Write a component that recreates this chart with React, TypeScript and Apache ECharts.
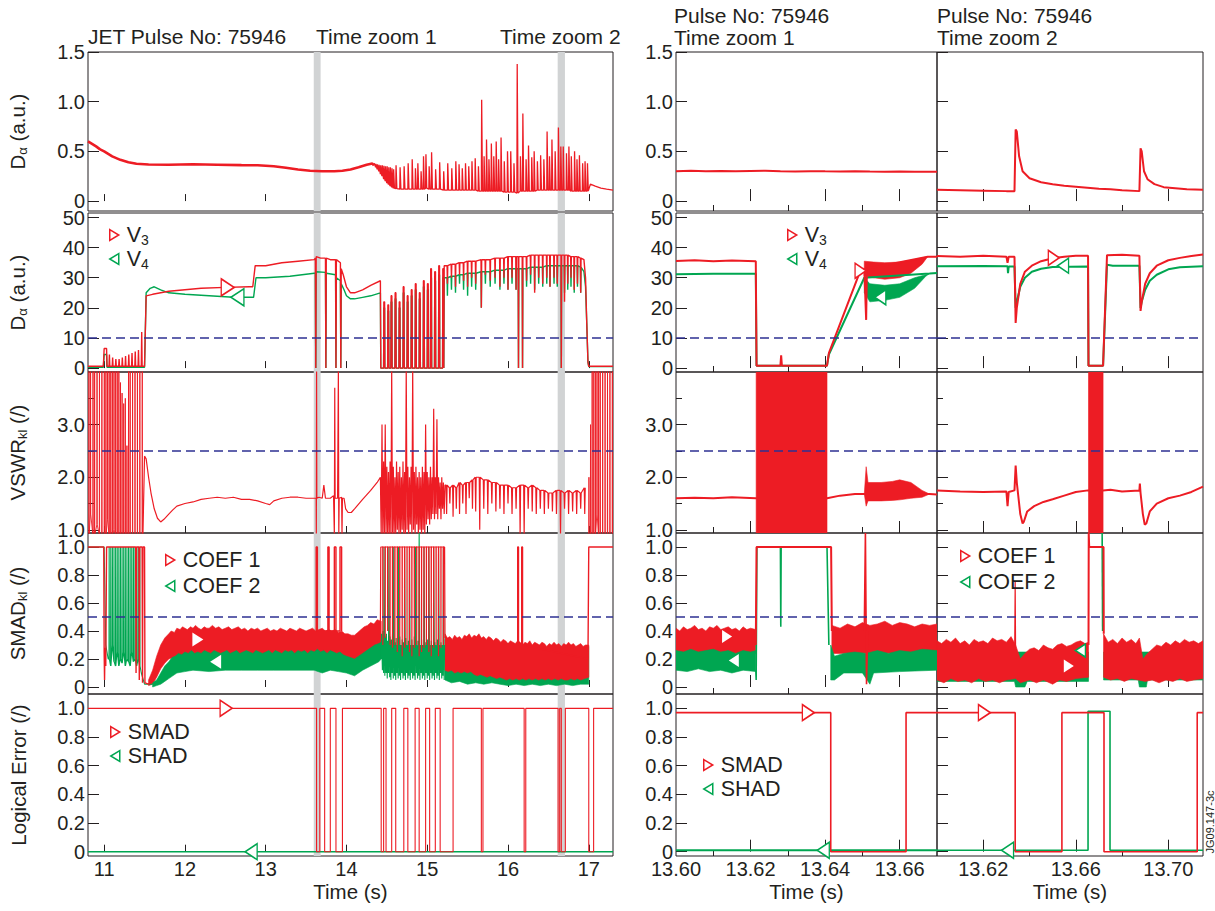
import React, { useEffect, useRef } from 'react';
import * as echarts from 'echarts';

type P = [number, number];
const RED = '#ed1c24', GREEN = '#00a651', BLUE = '#2e3192', GREY = '#d1d3d4', INK = '#231f20';
const FONT = 'Liberation Sans, Arial, Helvetica, sans-serif';

// ---------------- axes / tick labels ----------------
const xTicksL = [11, 12, 13, 14, 15, 16, 17];
const xTicksM = [13.62, 13.64, 13.66];
const xLabelsM = [13.6, 13.62, 13.64, 13.66];
const xMinorM = [13.61, 13.63, 13.65];
const xTicksR = [13.62, 13.66, 13.7];
const xMinorR = [13.64, 13.68];
const yLabelsDa = [0, 0.5, 1, 1.5];
const yLabelsV = [0, 10, 20, 30, 40, 50];
const yLabelsVswr = [1, 2, 3];
const yMinorVswr = [1.5, 2.5, 3.5];
const yLabelsFrac = [0, 0.2, 0.4, 0.6, 0.8, 1];
const zoomBands = [[13.595, 13.68], [16.615, 16.705]];

// ---------------- row 1 : D alpha ----------------
const daL_base: P[] = [[10.8,0.6],[10.85,0.575],[10.9,0.55],[10.95,0.52],[11.0,0.5],[11.1,0.45],[11.2,0.415],[11.3,0.39],[11.4,0.375],[11.55,0.368],[11.8,0.366],[12.1,0.37],[12.4,0.366],[12.7,0.362],[12.9,0.36],[13.1,0.35],[13.25,0.335],[13.4,0.318],[13.55,0.305],[13.7,0.3],[13.85,0.3],[13.95,0.305],[14.05,0.318],[14.15,0.34],[14.25,0.365],[14.32,0.378],[14.34,0.36]];
// [time, base, peak]
const daL_elms = [[14.34,0.36,0.38],[14.36,0.34,0.375],[14.38,0.32,0.37],[14.4,0.3,0.365],[14.42,0.27,0.36],[14.44,0.25,0.36],[14.46,0.22,0.355],[14.48,0.2,0.35],[14.5,0.18,0.35],[14.52,0.165,0.34],[14.54,0.15,0.34],[14.56,0.14,0.33],[14.58,0.13,0.32],[14.61,0.125,0.36],[14.66,0.12,0.34],[14.71,0.12,0.35],[14.76,0.12,0.38],[14.81,0.12,0.42],[14.85,0.12,0.33],[14.88,0.12,0.38],[14.92,0.12,0.3],[14.95,0.12,0.45],[14.98,0.13,0.47],[15.02,0.12,0.35],[15.05,0.12,0.49],[15.1,0.12,0.32],[15.15,0.12,0.39],[15.2,0.11,0.3],[15.25,0.11,0.38],[15.3,0.11,0.33],[15.35,0.11,0.4],[15.39,0.11,0.37],[15.43,0.11,0.33],[15.47,0.11,0.38],[15.51,0.11,0.35],[15.55,0.11,0.4],[15.59,0.11,0.43],[15.63,0.1,0.35],[15.67,0.1,1.02],[15.7,0.1,0.45],[15.73,0.1,0.62],[15.76,0.1,0.42],[15.79,0.1,0.58],[15.82,0.1,0.45],[15.85,0.1,0.6],[15.88,0.1,0.42],[15.91,0.1,0.64],[15.95,0.09,0.4],[15.99,0.09,0.5],[16.03,0.09,0.5],[16.07,0.09,0.38],[16.11,0.08,1.38],[16.15,0.1,0.45],[16.18,0.1,0.88],[16.22,0.1,0.42],[16.25,0.1,0.56],[16.29,0.1,0.44],[16.32,0.1,0.5],[16.36,0.11,0.4],[16.4,0.11,0.46],[16.44,0.11,0.42],[16.48,0.11,0.7],[16.51,0.11,0.45],[16.54,0.11,0.62],[16.58,0.11,0.5],[16.62,0.11,0.74],[16.65,0.11,0.55],[16.68,0.11,0.55],[16.72,0.11,0.48],[16.75,0.11,0.55],[16.78,0.1,0.45],[16.82,0.1,0.5],[16.85,0.1,0.42],[16.88,0.1,0.46],[16.92,0.1,0.38],[16.95,0.1,0.4],[16.98,0.1,0.38]];
const daL_tail: P[] = [[17.0,0.1],[17.02,0.17],[17.08,0.15],[17.15,0.13],[17.22,0.12],[17.3,0.11]];
const daM: P[] = [[13.6,0.3],[13.604,0.305],[13.608,0.3],[13.612,0.303],[13.616,0.299],[13.62,0.302],[13.624,0.305],[13.628,0.3],[13.632,0.298],[13.636,0.301],[13.64,0.299],[13.644,0.298],[13.648,0.3],[13.652,0.297],[13.656,0.296],[13.66,0.298],[13.664,0.294],[13.667,0.296],[13.67,0.295]];
const daR: P[] = [[13.6,0.115],[13.61,0.11],[13.62,0.105],[13.63,0.1],[13.6335,0.1],[13.634,0.72],[13.6345,0.7],[13.6355,0.45],[13.637,0.3],[13.64,0.23],[13.645,0.19],[13.65,0.17],[13.655,0.155],[13.66,0.145],[13.665,0.135],[13.67,0.125],[13.675,0.12],[13.68,0.11],[13.6875,0.1],[13.688,0.53],[13.6885,0.5],[13.6895,0.3],[13.691,0.22],[13.694,0.17],[13.698,0.14],[13.703,0.13],[13.708,0.12],[13.715,0.115]];

// ---------------- row 2 : V3 / V4 ----------------
const v3L_early: P[] = [[10.8,0.6],[10.99,0.6],[11.0,6.5],[11.03,6.5],[11.035,0.6],[11.06,0.6],[11.065,4.5],[11.07,0.6],[11.1,0.6],[11.105,3.5],[11.11,0.6],[11.14,0.6],[11.145,3],[11.15,0.6],[11.18,0.6],[11.185,3],[11.19,0.6],[11.22,0.6],[11.225,3.5],[11.23,0.6],[11.26,0.6],[11.265,4],[11.27,0.6],[11.3,0.6],[11.305,4.5],[11.31,0.6],[11.34,0.6],[11.345,5],[11.35,0.6],[11.38,0.6],[11.385,5.5],[11.39,0.6],[11.42,0.6],[11.425,6],[11.43,0.6],[11.46,0.6],[11.465,12],[11.47,0.6],[11.5,0.6],[11.52,24],[11.6,24.5],[11.8,25.5],[12.0,26],[12.2,26.5],[12.5,26.8],[12.8,27],[12.84,27],[12.87,34],[13.0,34],[13.2,35],[13.4,35.5],[13.6,36],[13.615,36.5],[13.62,0],[13.625,37],[13.68,36.5],[13.74,36.5],[13.745,0],[13.75,36.5],[13.8,36],[13.865,36],[13.87,0],[13.875,36],[13.925,35],[13.93,0],[13.935,33],[13.96,31],[14.0,27],[14.05,25],[14.1,25],[14.2,26],[14.3,27.5],[14.42,29],[14.425,0]];
const v3L_saw = [[14.46,22],[14.51,21],[14.55,24],[14.6,25],[14.65,22],[14.7,27],[14.75,24],[14.8,26],[14.85,28],[14.9,25],[14.95,29],[15.0,28],[15.04,33],[15.09,32],[15.14,34],[15.19,33]];
const v3L_late = [[15.25,34,28],[15.3,34.5,30],[15.35,34.5,27],[15.4,35,31],[15.45,35,29],[15.5,35.5,27],[15.55,35.5,30],[15.6,35.5,28],[15.67,36,20],[15.72,36,31],[15.78,36,29],[15.84,36.5,30],[15.9,36.5,27],[15.95,36.5,30],[16.0,37,26],[16.05,37,30],[16.1,37,26],[16.13,37,0],[16.18,37,0],[16.23,37,29],[16.28,37.5,31],[16.33,37.5,25],[16.38,37.5,30],[16.43,37.5,28],[16.48,37.5,30],[16.52,37.5,27],[16.57,37.5,30],[16.61,37.5,28],[16.66,37.5,0],[16.7,37.5,22],[16.74,37.5,28],[16.78,37,30],[16.82,37,26],[16.86,37,28],[16.9,36.5,25]];
const v3L_end: P[] = [[16.94,36],[16.96,30],[16.975,15],[16.99,2],[17.0,0.6],[17.3,0.6]];
const v4L_early: P[] = [[10.8,0.3],[10.99,0.3],[11.0,4.5],[11.03,4.5],[11.035,0.3],[11.5,0.3],[11.52,25],[11.57,26.5],[11.62,27],[11.7,26],[11.8,25],[12.0,24.5],[12.3,24],[12.6,23.5],[12.85,23.5],[12.88,30],[13.0,30],[13.3,30.5],[13.6,31.5],[13.615,31.5],[13.62,0],[13.625,32],[13.74,31.8],[13.745,0],[13.75,31.5],[13.865,31],[13.87,0],[13.875,30],[13.925,29],[13.93,0],[13.935,28],[13.97,26],[14.0,24],[14.05,23],[14.1,23],[14.2,23.5],[14.3,24],[14.42,25],[14.425,0]];
const v4L_saw = [[14.46,20],[14.51,19],[14.55,22],[14.6,23],[14.65,20],[14.7,25],[14.75,22],[14.8,24],[14.85,26],[14.9,23],[14.95,27],[15.0,26],[15.04,30],[15.09,29],[15.14,31],[15.19,30]];
const v4L_late = [[15.25,30,24],[15.3,30.5,26],[15.35,30.5,25],[15.4,31,28],[15.45,31,26],[15.5,31.5,24],[15.55,31.5,27],[15.6,31.5,26],[15.67,32,20],[15.72,32,28],[15.78,32,27],[15.84,32.5,28],[15.9,32.5,26],[15.95,32.5,28],[16.0,33,26],[16.05,33,28],[16.1,33,26],[16.13,33,0],[16.18,33,0],[16.23,33,27],[16.28,33.5,28],[16.33,33.5,26],[16.38,33.5,28],[16.43,33.5,27],[16.48,34,28],[16.52,34,27],[16.57,34,28],[16.61,34,27],[16.66,34,0],[16.7,34,25],[16.74,34,26],[16.78,34,27],[16.82,34,25],[16.86,34,27],[16.9,33.5,25]];
const v4L_end: P[] = [[16.94,32],[16.96,27],[16.975,15],[16.99,2],[17.0,0.5],[17.3,0.5]];

const v3M: P[] = [[13.6,35.6],[13.605,35.8],[13.61,35.5],[13.615,35.7],[13.6214,35.5],[13.6216,0.8],[13.628,0.8],[13.6282,4.2],[13.6284,0.8],[13.6405,0.8],[13.641,5],[13.6495,32.5],[13.6505,33],[13.651,16],[13.6512,33]];
const v3M_up: P[] = [[13.6505,35.5],[13.653,35.2],[13.656,35],[13.66,35.2],[13.663,35.8],[13.666,36.6],[13.6675,37]];
const v3M_lo: P[] = [[13.6505,30.5],[13.653,30],[13.656,29.5],[13.66,30],[13.663,31.5],[13.666,34.5],[13.6675,37]];
const v3M_end: P[] = [[13.6675,37],[13.67,37]];
const v4M: P[] = [[13.6,31.2],[13.61,31.3],[13.6214,31.3],[13.6216,0.8],[13.6405,0.8],[13.641,4.5],[13.6505,30]];
const v4M_up: P[] = [[13.6505,30],[13.652,28],[13.656,27.5],[13.66,28],[13.664,30],[13.667,31],[13.668,31.4]];
const v4M_lo: P[] = [[13.6505,25],[13.652,22],[13.656,22.5],[13.66,23.5],[13.664,26.5],[13.667,30.5],[13.668,31.4]];
const v4M_end: P[] = [[13.668,31.4],[13.67,31.6]];
const v3R: P[] = [[13.6,37.2],[13.61,37.0],[13.62,37.3],[13.63,37],[13.6305,35],[13.631,37],[13.6335,37],[13.634,15],[13.6345,20],[13.636,28],[13.638,32],[13.641,34],[13.645,35.5],[13.65,36.5],[13.655,37],[13.66,37.3],[13.6653,37.3],[13.6655,0.8],[13.6718,0.8],[13.6735,37.5],[13.68,37.6],[13.6875,37.3],[13.688,19],[13.6885,22],[13.69,28],[13.692,31.5],[13.695,34],[13.7,35.8],[13.705,36.6],[13.71,37.2],[13.715,37.7]];
const v4R: P[] = [[13.6,33.8],[13.62,33.9],[13.6305,33.8],[13.6307,31.5],[13.631,33.7],[13.6335,33.7],[13.634,20],[13.6345,22],[13.636,27],[13.638,30],[13.641,32],[13.645,33],[13.65,33.6],[13.6653,33.7],[13.6655,0.8],[13.6718,0.8],[13.6735,34.3],[13.676,34],[13.6875,34],[13.688,20],[13.6885,22],[13.69,26],[13.692,29],[13.695,31],[13.7,32.8],[13.705,33.5],[13.715,33.8]];

// ---------------- row 3 : VSWR ----------------
const vsL_oscA = [[10.81,0.9,4.1],[10.83,1.3,4.1],[10.86,0.9,4.1],[10.88,0.9,4.1],[10.91,1.1,4.1],[10.94,0.9,4.1],[10.97,0.9,4.1],[11.0,0.9,4.1],[11.02,0.9,4.1],[11.04,1.2,4.1],[11.06,0.9,4.1],[11.08,0.9,4.1],[11.1,0.9,4.1],[11.12,1.0,4.1],[11.14,0.9,4.1],[11.16,0.9,4.1],[11.18,0.9,4.1],[11.2,0.9,3.8],[11.22,0.9,3.6],[11.24,0.9,3.4],[11.26,0.9,3.5],[11.28,0.9,2.6],[11.3,0.9,4.1],[11.32,0.9,4.1],[11.35,0.9,4.1],[11.38,0.9,4.1],[11.41,0.9,4.1],[11.44,0.9,4.1],[11.47,0.9,4.1]];
const vsL_mid: P[] = [[11.48,0.9],[11.5,2.4],[11.52,2.35],[11.55,2.0],[11.58,1.7],[11.62,1.4],[11.66,1.22],[11.7,1.15],[11.74,1.2],[11.8,1.3],[11.85,1.38],[11.9,1.45],[12.0,1.5],[12.1,1.53],[12.2,1.58],[12.3,1.6],[12.4,1.62],[12.5,1.6],[12.6,1.62],[12.7,1.58],[12.8,1.58],[12.9,1.55],[13.0,1.5],[13.05,1.48],[13.1,1.55],[13.2,1.6],[13.3,1.62],[13.4,1.62],[13.5,1.6],[13.6,1.6],[13.625,1.6],[13.627,0.9],[13.63,4.1],[13.633,1.6],[13.66,1.62],[13.7,1.6],[13.72,1.85],[13.74,1.6],[13.8,1.6],[13.84,1.65],[13.85,0.9],[13.855,3.7],[13.86,1.6],[13.89,1.6],[13.9,4.1],[13.905,0.9],[13.91,1.6],[13.94,1.62],[13.945,0.9],[13.95,1.6],[13.97,1.6],[13.99,1.4],[14.02,1.33],[14.06,1.33],[14.1,1.4],[14.2,1.58],[14.3,1.75],[14.38,1.9],[14.42,2.0]];
const vsL_oscB = [[14.43,0.9,3.0],[14.45,0.9,2.3],[14.47,0.9,3.0],[14.49,0.9,2.2],[14.51,0.9,2.1],[14.53,0.9,2.3],[14.55,0.9,4.1],[14.57,0.9,2.2],[14.59,0.9,2.0],[14.61,0.9,2.3],[14.63,1.0,2.1],[14.65,0.9,2.2],[14.67,0.9,2.0],[14.69,1.0,2.3],[14.71,0.9,2.1],[14.73,0.9,4.1],[14.75,1.0,2.2],[14.77,0.9,2.0],[14.79,1.1,2.2],[14.81,0.9,4.1],[14.83,1.0,2.1],[14.85,0.9,2.2],[14.87,1.1,2.0],[14.89,0.9,2.1],[14.91,1.0,2.0],[14.93,0.9,2.2],[14.95,1.0,2.1],[14.97,0.9,3.0],[14.99,1.1,2.1],[15.01,1.2,2.0],[15.03,1.1,2.2],[15.05,1.2,2.0],[15.07,1.3,3.3],[15.09,1.2,2.0],[15.11,1.3,3.1],[15.13,1.2,2.0],[15.15,1.4,1.9],[15.17,1.2,2.0],[15.19,1.4,1.9],[15.21,1.3,1.85]];
const vsL_late = [[15.24,1.85,1.3],[15.28,1.8,1.5],[15.32,1.85,1.25],[15.36,1.8,1.4],[15.4,1.9,1.3],[15.44,1.85,1.5],[15.48,1.9,1.3],[15.52,1.9,1.6],[15.56,1.95,1.4],[15.6,2.0,1.35],[15.65,2.0,1.0],[15.7,1.95,1.4],[15.75,1.95,1.3],[15.8,1.9,1.5],[15.85,1.9,1.35],[15.9,1.85,1.4],[15.95,1.85,1.3],[16.0,1.85,1.5],[16.05,1.8,1.3],[16.1,1.8,1.4],[16.15,1.85,0.9],[16.2,1.85,0.9],[16.25,1.8,1.4],[16.3,1.85,1.35],[16.35,1.8,1.3],[16.4,1.75,1.4],[16.45,1.75,1.3],[16.5,1.7,1.4],[16.55,1.7,1.35],[16.6,1.75,1.3],[16.65,1.75,0.9],[16.7,1.7,1.4],[16.75,1.75,1.3],[16.8,1.7,1.35],[16.85,1.75,1.3],[16.9,1.7,1.4],[16.95,1.8,1.3]];
const vsL_oscC = [[17.0,0.9,2.0],[17.02,0.9,3.0],[17.04,0.9,4.1],[17.06,0.9,4.1],[17.08,0.9,4.1],[17.1,1.3,4.1],[17.12,0.9,4.1],[17.14,0.9,4.1],[17.17,0.9,4.1],[17.2,0.9,4.1],[17.23,0.9,4.1],[17.26,0.9,4.1],[17.29,0.9,4.1]];
const vsM_a: P[] = [[13.6,1.6],[13.605,1.61],[13.61,1.6],[13.615,1.62],[13.6214,1.6]];
const vsM_block = [13.6215, 13.6405];
const vsM_b: P[] = [[13.6405,1.6],[13.644,1.65],[13.648,1.68],[13.6508,1.68]];
const vsM_up: P[] = [[13.6505,1.68],[13.651,2.2],[13.6515,1.9],[13.655,1.9],[13.658,1.92],[13.66,1.95],[13.663,1.9],[13.666,1.75],[13.668,1.68]];
const vsM_lo: P[] = [[13.6505,1.68],[13.651,1.45],[13.6515,1.55],[13.655,1.55],[13.658,1.56],[13.66,1.57],[13.663,1.6],[13.666,1.62],[13.668,1.68]];
const vsM_end: P[] = [[13.668,1.68],[13.67,1.67]];
const vsR_a: P[] = [[13.6,1.75],[13.61,1.73],[13.62,1.72],[13.63,1.73],[13.6305,1.45],[13.631,1.72],[13.6335,1.75],[13.634,2.22],[13.6345,1.9],[13.636,1.3],[13.637,1.12],[13.6375,1.15],[13.639,1.35],[13.642,1.45],[13.646,1.53],[13.65,1.58],[13.655,1.65],[13.66,1.72],[13.6653,1.75]];
const vsR_block = [13.6655, 13.6718];
const vsR_b: P[] = [[13.6718,1.75],[13.675,1.76],[13.68,1.73],[13.6875,1.75],[13.6877,1.88],[13.688,1.7],[13.689,1.3],[13.6898,1.1],[13.6905,1.12],[13.692,1.35],[13.695,1.5],[13.7,1.6],[13.705,1.65],[13.71,1.72],[13.715,1.82]];

// ---------------- row 4 : SMAD ----------------
const c1L_early: P[] = [[10.8,1.0],[10.995,1.0],[11.0,0.25],[11.005,0.05],[11.01,0.28],[11.02,0.15],[11.03,1.0],[11.39,1.0],[11.395,0.1],[11.4,1.0],[11.43,1.0],[11.435,0.05],[11.44,1.0],[11.47,1.0],[11.475,0.03],[11.48,1.0],[11.5,1.0],[11.505,0.03],[11.55,0.02],[11.6,0.04]];
const c1L_up: P[] = [[11.55,0.05],[11.6,0.12],[11.65,0.22],[11.7,0.3],[11.75,0.35],[11.8,0.38],[11.83,0.4],[11.87,0.39],[11.9,0.42],[11.94,0.41],[11.97,0.43],[12.0,0.42],[12.03,0.41],[12.07,0.43],[12.1,0.42],[12.13,0.44],[12.17,0.42],[12.2,0.41],[12.24,0.43],[12.27,0.42],[12.3,0.42],[12.34,0.44],[12.38,0.42],[12.42,0.43],[12.46,0.41],[12.5,0.42],[12.54,0.43],[12.58,0.41],[12.62,0.42],[12.66,0.43],[12.7,0.41],[12.74,0.42],[12.78,0.4],[12.82,0.42],[12.86,0.41],[12.9,0.42],[12.94,0.4],[12.98,0.41],[13.02,0.42],[13.06,0.4],[13.1,0.41],[13.14,0.4],[13.18,0.42],[13.22,0.41],[13.26,0.4],[13.3,0.42],[13.34,0.41],[13.38,0.4],[13.42,0.42],[13.46,0.41],[13.5,0.4],[13.54,0.41],[13.58,0.42],[13.62,0.4],[13.66,0.41],[13.7,0.42],[13.74,0.4],[13.78,0.41],[13.82,0.4],[13.86,0.41],[13.9,0.39],[13.94,0.4],[13.98,0.38],[14.02,0.38],[14.06,0.37],[14.1,0.37],[14.14,0.39],[14.18,0.41],[14.22,0.43],[14.26,0.44],[14.3,0.46],[14.34,0.45],[14.38,0.48],[14.43,0.47]];
const c1L_lo: P[] = [[11.55,0.01],[11.6,0.02],[11.65,0.07],[11.7,0.13],[11.75,0.17],[11.8,0.2],[11.9,0.22],[12.0,0.22],[12.4,0.22],[12.8,0.22],[13.2,0.22],[13.6,0.22],[13.9,0.21],[14.0,0.2],[14.1,0.18],[14.2,0.21],[14.3,0.25],[14.4,0.28],[14.43,0.3]];
const c2L_up: P[] = [[11.6,0.03],[11.65,0.05],[11.7,0.1],[11.75,0.15],[11.8,0.18],[11.84,0.21],[11.88,0.22],[11.92,0.24],[11.96,0.23],[12.0,0.25],[12.04,0.24],[12.08,0.26],[12.12,0.24],[12.16,0.25],[12.2,0.24],[12.24,0.26],[12.28,0.25],[12.32,0.24],[12.36,0.26],[12.4,0.25],[12.44,0.24],[12.48,0.25],[12.52,0.26],[12.56,0.24],[12.6,0.25],[12.64,0.26],[12.68,0.24],[12.72,0.25],[12.76,0.26],[12.8,0.25],[12.84,0.24],[12.88,0.26],[12.92,0.25],[12.96,0.24],[13.0,0.25],[13.04,0.26],[13.08,0.24],[13.12,0.26],[13.16,0.25],[13.2,0.24],[13.24,0.26],[13.28,0.25],[13.32,0.26],[13.36,0.24],[13.4,0.26],[13.44,0.25],[13.48,0.26],[13.52,0.24],[13.56,0.26],[13.6,0.25],[13.64,0.27],[13.68,0.25],[13.72,0.26],[13.76,0.24],[13.8,0.26],[13.84,0.25],[13.88,0.24],[13.92,0.25],[13.96,0.23],[14.0,0.22],[14.05,0.21],[14.1,0.2],[14.15,0.22],[14.2,0.24],[14.25,0.26],[14.3,0.28],[14.35,0.3],[14.4,0.31],[14.43,0.32]];
const c2L_lo: P[] = [[11.6,0.0],[11.65,0.01],[11.7,0.02],[11.75,0.04],[11.8,0.06],[11.85,0.08],[11.9,0.1],[12.0,0.11],[12.1,0.12],[12.3,0.11],[12.5,0.12],[12.7,0.12],[12.9,0.12],[13.1,0.12],[13.3,0.12],[13.5,0.12],[13.6,0.12],[13.7,0.1],[13.8,0.12],[13.9,0.11],[14.0,0.1],[14.1,0.08],[14.2,0.12],[14.3,0.15],[14.4,0.18],[14.43,0.2]];
const c1L_pulses = [[13.625,13.64],[13.77,13.785],[13.85,13.87],[13.92,13.94]];
const c1L_osc = [[14.45,1,0.3],[14.48,1,0.35],[14.51,1,0.4],[14.54,1,0.3],[14.57,1,0.28],[14.6,1,0.3],[14.63,1,0.25],[14.66,1,0.3],[14.69,1,0.22],[14.72,1,0.28],[14.75,1,0.3],[14.78,1,0.25],[14.81,1,0.22],[14.84,1,0.28],[14.87,1,0.3],[14.9,1,0.22],[14.93,1,0.25],[14.96,1,0.28],[14.99,1,0.3],[15.02,1,0.25],[15.05,1,0.22],[15.08,1,0.28],[15.11,1,0.3],[15.14,1,0.22],[15.17,1,0.28],[15.2,1,0.3]];
const c2L_zig = [[11.06,0.2,1],[11.08,0.15,1],[11.1,0.3,1],[11.12,0.18,1],[11.14,0.15,1],[11.16,0.25,1],[11.18,0.15,1],[11.2,0.2,1],[11.22,0.17,1],[11.24,0.25,1],[11.26,0.15,1],[11.28,0.2,1],[11.3,0.18,1],[11.32,0.15,1],[11.34,0.25,1],[11.36,0.18,1],[11.38,0.2,1],[11.4,0.15,1],[11.42,0.2,1],[11.44,0.15,1]];
const c2L_osc = [[14.43,0.2,0.38],[14.445,0.12,0.4],[14.46,0.1,1.0],[14.475,0.08,0.36],[14.49,0.1,0.38],[14.505,0.06,0.33],[14.52,0.1,1.0],[14.535,0.07,0.36],[14.55,0.05,0.34],[14.565,0.1,0.38],[14.58,0.06,1.0],[14.595,0.08,0.32],[14.61,0.05,0.35],[14.625,0.1,0.3],[14.64,0.06,1.0],[14.655,0.08,0.36],[14.67,0.05,0.3],[14.685,0.1,0.34],[14.7,0.06,0.32],[14.715,0.08,1.0],[14.73,0.05,0.35],[14.745,0.1,0.3],[14.76,0.06,0.33],[14.775,0.08,1.0],[14.79,0.05,0.3],[14.805,0.1,0.34],[14.82,0.06,0.3],[14.835,0.08,0.36],[14.85,0.05,1.0],[14.865,0.1,0.3],[14.88,0.06,0.33],[14.895,0.08,1.1],[14.91,0.05,0.3],[14.925,0.1,0.34],[14.94,0.06,0.3],[14.955,0.08,1.0],[14.97,0.05,0.32],[14.985,0.1,0.3],[15.0,0.06,0.34],[15.015,0.08,1.0],[15.03,0.05,0.3],[15.045,0.1,0.33],[15.06,0.06,0.3],[15.075,0.08,1.0],[15.09,0.05,0.32],[15.105,0.1,0.3],[15.12,0.06,0.34],[15.135,0.08,1.0],[15.15,0.05,0.3],[15.165,0.1,0.32],[15.18,0.06,0.3],[15.195,0.08,1.0],[15.21,0.05,0.3]];
const c1L_up2: P[] = [[15.22,0.38],[15.25,0.35],[15.28,0.36],[15.31,0.34],[15.34,0.37],[15.37,0.35],[15.4,0.36],[15.43,0.34],[15.46,0.37],[15.49,0.36],[15.52,0.38],[15.55,0.35],[15.58,0.37],[15.61,0.36],[15.64,0.38],[15.67,0.35],[15.7,0.36],[15.73,0.34],[15.76,0.36],[15.79,0.35],[15.82,0.33],[15.85,0.35],[15.88,0.34],[15.91,0.32],[15.94,0.34],[15.97,0.33],[16.0,0.31],[16.03,0.33],[16.06,0.32],[16.09,0.31],[16.12,0.33],[16.15,0.32],[16.18,0.3],[16.21,0.32],[16.24,0.31],[16.27,0.33],[16.3,0.3],[16.33,0.32],[16.36,0.31],[16.39,0.3],[16.42,0.32],[16.45,0.31],[16.48,0.29],[16.51,0.31],[16.54,0.3],[16.57,0.32],[16.6,0.3],[16.63,0.31],[16.66,0.29],[16.69,0.31],[16.72,0.3],[16.75,0.32],[16.78,0.3],[16.81,0.31],[16.84,0.29],[16.87,0.3],[16.9,0.31],[16.93,0.29],[16.96,0.3],[17.0,0.3]];
const c1L_lo2: P[] = [[15.22,0.12],[15.26,0.11],[15.3,0.12],[15.34,0.1],[15.38,0.11],[15.42,0.1],[15.46,0.11],[15.5,0.1],[15.54,0.11],[15.58,0.09],[15.62,0.08],[15.66,0.09],[15.7,0.08],[15.74,0.07],[15.78,0.08],[15.82,0.07],[15.86,0.06],[15.9,0.07],[15.94,0.06],[15.98,0.05],[16.02,0.06],[16.06,0.05],[16.1,0.06],[16.14,0.05],[16.18,0.06],[16.22,0.05],[16.26,0.06],[16.3,0.05],[16.34,0.06],[16.38,0.05],[16.42,0.06],[16.46,0.05],[16.5,0.06],[16.54,0.05],[16.58,0.06],[16.62,0.05],[16.66,0.06],[16.7,0.05],[16.74,0.05],[16.78,0.06],[16.82,0.05],[16.86,0.06],[16.9,0.05],[16.95,0.06],[17.0,0.07]];
const c2L_up2: P[] = [[15.22,0.34],[15.3,0.3],[15.4,0.33],[15.5,0.31],[15.6,0.34],[15.7,0.3],[15.8,0.32],[15.9,0.3],[16.0,0.31],[16.1,0.29],[16.2,0.3],[16.3,0.28],[16.4,0.3],[16.5,0.28],[16.6,0.3],[16.7,0.28],[16.8,0.29],[16.9,0.28],[17.0,0.29]];
const c2L_lo2: P[] = [[15.22,0.05],[15.3,0.03],[15.4,0.04],[15.5,0.02],[15.6,0.03],[15.7,0.02],[15.8,0.03],[15.9,0.02],[16.0,0.01],[16.1,0.02],[16.2,0.01],[16.3,0.02],[16.4,0.01],[16.5,0.02],[16.6,0.01],[16.7,0.02],[16.8,0.01],[16.9,0.02],[17.0,0.02]];
const c1L_pulses2 = [[16.12,16.13],[16.17,16.18]];
const c1L_end: P[] = [[16.99,0.2],[17.0,1.0],[17.3,1.0]];
const c2L_early: P[] = [[10.8,1.0],[11.0,1.0],[11.02,0.3],[11.05,0.2]];
const c2L_after: P[] = [[11.46,0.1],[11.5,0.02],[11.6,0.02]];

const c1M_up: P[] = [[13.6,0.42],[13.601,0.4],[13.602,0.43],[13.603,0.41],[13.604,0.42],[13.605,0.44],[13.606,0.41],[13.607,0.42],[13.608,0.4],[13.609,0.43],[13.61,0.42],[13.611,0.44],[13.612,0.41],[13.613,0.42],[13.614,0.43],[13.615,0.41],[13.616,0.42],[13.617,0.4],[13.618,0.43],[13.619,0.41],[13.62,0.42],[13.6214,0.41]];
const c1M_lo: P[] = [[13.6,0.24],[13.6214,0.24]];
const c2M_up: P[] = [[13.6,0.26],[13.602,0.25],[13.604,0.27],[13.606,0.25],[13.608,0.26],[13.61,0.27],[13.612,0.25],[13.614,0.26],[13.616,0.24],[13.618,0.26],[13.62,0.25],[13.6214,0.26]];
const c2M_lo: P[] = [[13.6,0.12],[13.603,0.11],[13.606,0.13],[13.609,0.11],[13.612,0.12],[13.615,0.1],[13.618,0.12],[13.6214,0.11]];
const c1M_up2: P[] = [[13.6418,0.44],[13.644,0.42],[13.646,0.45],[13.648,0.43],[13.65,0.46],[13.652,0.44],[13.654,0.45],[13.656,0.47],[13.658,0.44],[13.66,0.46],[13.662,0.45],[13.664,0.43],[13.666,0.45],[13.668,0.44],[13.67,0.45]];
const c1M_lo2: P[] = [[13.6418,0.24],[13.67,0.24]];
const c2M_up2: P[] = [[13.6415,0.3],[13.6425,0.22],[13.645,0.24],[13.648,0.25],[13.651,0.24],[13.654,0.26],[13.657,0.24],[13.66,0.26],[13.663,0.25],[13.666,0.27],[13.67,0.26]];
const c2M_lo2: P[] = [[13.6415,0.05],[13.6425,0.05],[13.645,0.1],[13.65,0.1],[13.652,0.02],[13.653,0.1],[13.66,0.11],[13.67,0.12]];
const c1M_line: P[] = [[13.6214,0.3],[13.6216,1.0],[13.6416,1.0],[13.6418,0.4]];
const c1M_spike: P[] = [[13.6505,0.4],[13.6508,1.1],[13.6511,0.02],[13.6514,0.4]];
const c2M_line: P[] = [[13.6214,0.12],[13.6215,0.05],[13.6217,1.0],[13.628,1.0],[13.6281,0.43],[13.6282,1.0],[13.6405,1.0],[13.641,0.3]];

const c1R_up: P[] = [[13.6,0.33],[13.602,0.31],[13.604,0.34],[13.606,0.32],[13.608,0.35],[13.61,0.31],[13.612,0.33],[13.614,0.3],[13.616,0.34],[13.618,0.32],[13.62,0.33],[13.622,0.31],[13.624,0.35],[13.626,0.33],[13.628,0.34],[13.63,0.32],[13.632,0.36],[13.634,0.3],[13.636,0.2],[13.638,0.24],[13.64,0.27],[13.642,0.28],[13.644,0.26],[13.646,0.3],[13.648,0.28],[13.65,0.27],[13.652,0.3],[13.654,0.31],[13.656,0.29],[13.658,0.3],[13.66,0.32],[13.662,0.33],[13.664,0.31],[13.6655,0.32]];
const c1R_lo: P[] = [[13.6,0.05],[13.603,0.03],[13.606,0.06],[13.609,0.04],[13.612,0.05],[13.615,0.03],[13.618,0.06],[13.621,0.04],[13.624,0.05],[13.627,0.03],[13.63,0.05],[13.634,0.06],[13.636,0.03],[13.64,0.05],[13.643,0.03],[13.646,0.05],[13.65,0.02],[13.653,0.05],[13.656,0.04],[13.66,0.06],[13.6655,0.07]];
const c1R_up2: P[] = [[13.672,0.38],[13.674,0.32],[13.676,0.34],[13.678,0.31],[13.68,0.35],[13.682,0.32],[13.684,0.34],[13.686,0.31],[13.6875,0.35],[13.689,0.2],[13.691,0.24],[13.693,0.27],[13.695,0.3],[13.697,0.29],[13.699,0.32],[13.701,0.3],[13.703,0.33],[13.705,0.31],[13.707,0.34],[13.709,0.32],[13.711,0.33],[13.713,0.31],[13.715,0.33]];
const c1R_lo2: P[] = [[13.672,0.07],[13.675,0.05],[13.678,0.06],[13.681,0.04],[13.684,0.06],[13.687,0.05],[13.69,0.04],[13.693,0.05],[13.696,0.03],[13.699,0.05],[13.702,0.04],[13.705,0.06],[13.708,0.04],[13.711,0.05],[13.715,0.06]];
const c2R_up: P[] = [[13.6,0.25],[13.6655,0.25]];
const c2R_lo: P[] = [[13.6,0.04],[13.6335,0.04],[13.634,0.0],[13.638,0.0],[13.639,0.04],[13.6655,0.04]];
const c2R_up2: P[] = [[13.672,0.25],[13.715,0.25]];
const c2R_lo2: P[] = [[13.672,0.05],[13.687,0.05],[13.6875,0.0],[13.6905,0.0],[13.691,0.05],[13.715,0.05]];
const c1R_line: P[] = [[13.6655,0.3],[13.6656,1.1],[13.6658,1.0],[13.672,1.0],[13.6721,0.38]];
const c1R_spike: P[] = [[13.6336,0.3],[13.6338,0.75],[13.634,0.2]];
const c2R_line: P[] = [[13.6714,1.1],[13.6716,0.4]];

// ---------------- row 5 : logical error (step) ----------------
const smadL: P[] = [[10.8,1],[13.63,0],[13.67,1],[13.73,0],[13.8,1],[13.87,0],[13.95,1],[14.43,0],[14.46,1],[14.49,0],[14.56,1],[14.61,0],[14.71,1],[14.76,0],[14.85,1],[14.9,0],[14.98,1],[15.03,0],[15.1,1],[15.16,0],[15.32,1],[15.67,0],[15.69,1],[16.2,0],[16.22,1],[16.62,0],[16.64,1],[16.66,0],[16.71,1],[17.0,0],[17.06,1],[17.3,1]];
const shadL: P[] = [[10.8,0],[17.3,0]];
const smadM: P[] = [[13.6,0.97],[13.6415,0],[13.6617,0.97],[13.67,0.97]];
const shadM: P[] = [[13.6,0.01],[13.67,0.01]];
const smadR: P[] = [[13.6,0.97],[13.6338,0],[13.654,0.97],[13.6722,0],[13.7125,0.97],[13.715,0.97]];
const shadR: P[] = [[13.6,0.01],[13.6653,0.98],[13.6748,0.01],[13.715,0.01]];

// ---------------- marker positions on curves ----------------
const mkV3L: P = [12.53, 26.8], mkV4L: P = [12.65, 23.5];
const mkV3M: P = [13.6495, 32.3], mkV4M: P = [13.6548, 23.5];
const mkV3R: P = [13.6505, 36.6], mkV4R: P = [13.6545, 34];
const mkC1L: P = [12.16, 0.34], mkC2L: P = [12.38, 0.18];
const mkC1M: P = [13.6137, 0.36], mkC2M: P = [13.6155, 0.19];
const mkC1R: P = [13.657, 0.15], mkC2R: P = [13.662, 0.26];
const mkSmL: P = [12.51, 1.0], mkShL: P = [12.82, 0];
const mkSmM: P = [13.6355, 0.97], mkShM: P = [13.6395, 0.01];
const mkSmR: P = [13.6205, 0.97], mkShR: P = [13.6305, 0.01];

// ---------------- builders (turn the tables above into line points) ----------------
const pulses = (l: number[][]): P[] => l.flatMap(([t, b, p]) => [[t, b], [t + 0.004, p], [t + 0.014, b]] as P[]);
const saw = (l: number[][]): P[] => l.flatMap(([t, p]) => [[t, 0], [t + 0.003, p], [t + 0.012, p], [t + 0.015, 0]] as P[]);
const dips = (l: number[][], w: number): P[] => l.flatMap(([t, v, d]) => [[t - w, v], [t, d], [t + w, v]] as P[]);
const zigzag = (l: number[][], w: number): P[] => l.flatMap(([t, lo, hi]) => [[t, lo], [t + w, hi]] as P[]);
const spikes = (l: number[][], w: number): P[] => l.flatMap(([t, lo, hi]) => [[t, lo], [t + w, hi], [t + 2 * w, lo]] as P[]);
const rects = (l: number[][], b: number, h: number): P[] => l.flatMap(([a, c]) => [[a, b], [a, h], [c, h], [c, b]] as P[]);

const triR = 'path://M0,0L10,6L0,12Z';
const triL = 'path://M10,0L0,6L10,12Z';

const line = (g: number, data: P[], color: string, width: number, name?: string, extra: any = {}) => ({
  type: 'line', name, xAxisIndex: g, yAxisIndex: g, data, symbol: 'none', showSymbol: false, silent: true,
  lineStyle: { color, width }, itemStyle: { color }, z: 2, ...extra,
});
const band = (g: number, up: P[], lo: P[], color: string) => ({
  type: 'custom', xAxisIndex: g, yAxisIndex: g, clip: true, silent: true, z: 2,
  data: [[up[0][0], up[0][1]]],
  renderItem: (_p: any, api: any) => ({
    type: 'polygon',
    shape: { points: up.map((p) => api.coord(p)).concat([...lo].reverse().map((p) => api.coord(p))) },
    style: { fill: color, stroke: color, lineWidth: 0.6 },
  }),
});
const block = (g: number, span: number[], lo: number, hi: number, color: string) =>
  band(g, [[span[0], hi], [span[1], hi]], [[span[0], lo], [span[1], lo]], color);
const marker = (g: number, pt: P, dir: string, stroke: string | null, size: number[]) => ({
  type: 'scatter', xAxisIndex: g, yAxisIndex: g, data: [pt], symbol: dir === 'r' ? triR : triL, symbolSize: size,
  z: 6, silent: true, itemStyle: { color: '#ffffff', borderColor: stroke || '#ffffff', borderWidth: stroke ? 1.5 : 0, opacity: 1 },
});
const refLine = (y: number) => ({
  silent: true, symbol: 'none', label: { show: false }, animation: false,
  lineStyle: { color: BLUE, type: [9, 5], width: 1.6 }, data: [{ yAxis: y }],
});
const greyBands = {
  silent: true, itemStyle: { color: GREY, opacity: 1 },
  data: zoomBands.map(([a, b]) => [{ xAxis: a }, { xAxis: b }]),
};

// ---------------- layout ----------------
const COLS = [
  { left: 88, width: 525, min: 10.8, max: 17.3, major: xTicksL, labels: xTicksL, minor: [] as number[], len: 7, fmt: (v: number) => String(Math.round(v)) },
  { left: 676, width: 261, min: 13.6, max: 13.67, major: xTicksM, labels: xLabelsM, minor: xMinorM, len: 12, fmt: (v: number) => v.toFixed(2) },
  { left: 937, width: 266, min: 13.6, max: 13.715, major: xTicksR, labels: xTicksR, minor: xMinorR, len: 12, fmt: (v: number) => v.toFixed(2) },
];
const f1 = (v: number) => (v === 0 ? '0' : v.toFixed(1));
const ROWS = [
  { top: 52, height: 159, min: -0.1, max: 1.5, labels: yLabelsDa, minor: [] as number[], fmt: f1, name: '{a|D}{s|α}{a| (a.u.)}' },
  { top: 213, height: 159, min: -1.3, max: 51.5, labels: yLabelsV, minor: [] as number[], fmt: (v: number) => String(v), name: '{a|D}{s|α}{a| (a.u.)}' },
  { top: 372, height: 161, min: 0.94, max: 4.0, labels: yLabelsVswr, minor: yMinorVswr, fmt: (v: number) => v.toFixed(1), name: '{a|VSWR}{s|kl}{a| (/)}' },
  { top: 533, height: 161, min: -0.05, max: 1.1, labels: yLabelsFrac, minor: [] as number[], fmt: f1, name: '{a|SMAD}{s|kl}{a| (/)}' },
  { top: 694, height: 162, min: -0.03, max: 1.1, labels: yLabelsFrac, minor: [] as number[], fmt: f1, name: '{a|Logical Error (/)}' },
];
const RICH = {
  a: { fontSize: 20.5, color: INK, fontFamily: FONT },
  s: { fontSize: 13, color: INK, fontFamily: FONT, padding: [10, 0, 0, 0] },
};
const RICH_LEG = {
  a: { fontSize: 21.5, color: INK, fontFamily: FONT },
  s: { fontSize: 14, color: INK, fontFamily: FONT, padding: [10, 0, 0, 0] },
};

function buildOption() {
  const grid: any[] = [], xAxis: any[] = [], yAxis: any[] = [];
  ROWS.forEach((r, ri) => COLS.forEach((c, ci) => {
    const g = ri * 3 + ci;
    const bottom = ri === ROWS.length - 1;
    grid.push({ left: c.left, top: r.top, width: c.width, height: r.height, show: true, borderColor: INK, borderWidth: 1, backgroundColor: 'transparent' });
    xAxis.push({
      gridIndex: g, type: 'value', min: c.min, max: c.max, position: 'bottom',
      axisLine: { show: false }, splitLine: { show: false },
      axisTick: { show: true, inside: true, length: c.len, customValues: c.major, lineStyle: { color: INK, width: 1 } },
      axisLabel: { show: bottom, customValues: c.labels, formatter: c.fmt, fontSize: 20, lineHeight: 15, color: INK, margin: 5, fontFamily: FONT },
      name: bottom ? 'Time (s)' : '', nameLocation: 'middle', nameGap: 25,
      nameTextStyle: { fontSize: 20.5, color: INK, fontFamily: FONT },
    });
    yAxis.push({
      gridIndex: g, type: 'value', min: r.min, max: r.max, position: 'left',
      axisLine: { show: false }, splitLine: { show: false },
      axisTick: { show: true, inside: true, length: 11, customValues: r.labels, lineStyle: { color: INK, width: 1 } },
      axisLabel: { show: ci < 2, customValues: r.labels, formatter: r.fmt, fontSize: 20, lineHeight: 15, color: INK, margin: 3, fontFamily: FONT },
      name: ci === 0 ? r.name : '', nameLocation: 'middle', nameRotate: 90, nameGap: 59,
      nameTextStyle: { fontSize: 20.5, color: INK, fontFamily: FONT, rich: RICH },
    });
  }));
  ROWS.forEach((r, ri) => COLS.forEach((c, ci) => {
    const g = ri * 3 + ci;
    if (c.minor.length) xAxis.push({
      gridIndex: g, type: 'value', min: c.min, max: c.max, position: 'bottom',
      axisLine: { show: false }, splitLine: { show: false }, axisLabel: { show: false },
      axisTick: { show: true, inside: true, length: 6, customValues: c.minor, lineStyle: { color: INK, width: 1 } },
    });
    if (r.minor.length) yAxis.push({
      gridIndex: g, type: 'value', min: r.min, max: r.max, position: 'left',
      axisLine: { show: false }, splitLine: { show: false }, axisLabel: { show: false },
      axisTick: { show: true, inside: true, length: 6, customValues: r.minor, lineStyle: { color: INK, width: 1 } },
    });
  }));

  const S: any[] = [];
  // row 1
  S.push(line(0, daL_base, RED, 2.6, undefined, { markArea: greyBands }));
  S.push(line(0, [...pulses(daL_elms), ...daL_tail], RED, 1.3));
  S.push(line(1, daM, RED, 2));
  S.push(line(2, daR, RED, 2));
  // row 2
  S.push(line(3, [...v4L_early, ...saw(v4L_saw), [15.2, 0], [15.21, 30], ...dips(v4L_late, 0.004), ...v4L_end], GREEN, 1.4, 'V4', { markArea: greyBands }));
  S.push(line(3, [...v3L_early, ...saw(v3L_saw), [15.2, 0], [15.21, 34], ...dips(v3L_late, 0.004), ...v3L_end], RED, 1.4, 'V3', { markLine: refLine(10) }));
  S.push(band(4, v4M_up, v4M_lo, GREEN));
  S.push(line(4, [...v4M, ...v4M_end], GREEN, 2, 'V4'));
  S.push(band(4, v3M_up, v3M_lo, RED));
  S.push(line(4, [...v3M, ...v3M_end], RED, 2, 'V3', { markLine: refLine(10) }));
  S.push(line(5, v4R, GREEN, 2, 'V4'));
  S.push(line(5, v3R, RED, 2, 'V3', { markLine: refLine(10) }));
  S.push(marker(3, mkV3L, 'r', RED, [13, 17]), marker(3, mkV4L, 'l', GREEN, [13, 17]));
  S.push(marker(4, mkV3M, 'r', RED, [11, 15]), marker(4, mkV4M, 'l', GREEN, [11, 15]));
  S.push(marker(5, mkV3R, 'r', RED, [11, 15]), marker(5, mkV4R, 'l', GREEN, [11, 15]));
  // row 3
  S.push(line(6, spikes(vsL_oscA, 0.002), RED, 0.9, undefined, { markArea: greyBands }));
  S.push(line(6, [...vsL_mid, ...zigzag(vsL_oscB, 0.01), ...dips(vsL_late, 0.006)], RED, 1.2, undefined, { markLine: refLine(2.5) }));
  S.push(line(6, spikes(vsL_oscC, 0.002), RED, 0.9));
  S.push(block(7, vsM_block, 0.9, 4.1, RED));
  S.push(band(7, vsM_up, vsM_lo, RED));
  S.push(line(7, [...vsM_a, [vsM_block[0], 1.6], [vsM_block[1], 1.6], ...vsM_b, ...vsM_end], RED, 2, undefined, { markLine: refLine(2.5) }));
  S.push(block(8, vsR_block, 0.9, 4.1, RED));
  S.push(line(8, [...vsR_a, ...vsR_b], RED, 2, undefined, { markLine: refLine(2.5) }));
  // row 4 left
  S.push(band(9, c1L_up, c1L_lo, RED));
  S.push(band(9, c2L_up, c2L_lo, GREEN));
  S.push(line(9, [...c2L_early, ...spikes(c2L_zig, 0.002), ...c2L_after], GREEN, 1.1, 'COEF 2', { markArea: greyBands }));
  S.push(line(9, zigzag(c2L_osc, 0.005), GREEN, 1.1));
  S.push(line(9, c1L_early, RED, 1.4, 'COEF 1'));
  S.push(line(9, rects(c1L_pulses, 0.4, 1.0), RED, 1.4));
  S.push(line(9, [[14.42, 0.45], [14.425, 1.0], ...dips(c1L_osc, 0.001), [15.215, 1.0], [15.22, 0.35]], RED, 1.2));
  S.push(band(9, c2L_up2, c2L_lo2, GREEN));
  S.push(band(9, c1L_up2, c1L_lo2, RED));
  S.push(line(9, [...rects(c1L_pulses2, 0.3, 1.0), ...c1L_end], RED, 1.4, undefined, { markLine: refLine(0.5) }));
  S.push(marker(9, mkC1L, 'r', null, [11, 14]), marker(9, mkC2L, 'l', null, [11, 14]));
  // row 4 middle
  S.push(band(10, c1M_up, c1M_lo, RED));
  S.push(band(10, c2M_up, c2M_lo, GREEN));
  S.push(band(10, c1M_up2, c1M_lo2, RED));
  S.push(band(10, c2M_up2, c2M_lo2, GREEN));
  S.push(line(10, c2M_line, GREEN, 1.6, 'COEF 2'));
  S.push(line(10, [...c1M_line], RED, 2, 'COEF 1'));
  S.push(line(10, c1M_spike, RED, 1.6, undefined, { markLine: refLine(0.5) }));
  S.push(marker(10, mkC1M, 'r', null, [10, 13]), marker(10, mkC2M, 'l', null, [10, 13]));
  // row 4 right
  S.push(band(11, c2R_up, c2R_lo, GREEN));
  S.push(band(11, c2R_up2, c2R_lo2, GREEN));
  S.push(band(11, c1R_up, c1R_lo, RED));
  S.push(band(11, c1R_up2, c1R_lo2, RED));
  S.push(line(11, c2R_line, GREEN, 1.6, 'COEF 2'));
  S.push(line(11, c1R_line, RED, 2, 'COEF 1'));
  S.push(line(11, c1R_spike, RED, 1.2, undefined, { markLine: refLine(0.5) }));
  S.push(marker(11, mkC1R, 'r', null, [10, 13]), marker(11, mkC2R, 'l', GREEN, [10, 13]));
  // row 5
  S.push(line(12, shadL, GREEN, 1.4, 'SHAD', { step: 'end', markArea: greyBands }));
  S.push(line(12, smadL, RED, 1.1, 'SMAD', { step: 'end' }));
  S.push(line(13, shadM, GREEN, 2, 'SHAD', { step: 'end' }));
  S.push(line(13, smadM, RED, 1.6, 'SMAD', { step: 'end' }));
  S.push(line(14, shadR, GREEN, 1.6, 'SHAD', { step: 'end' }));
  S.push(line(14, smadR, RED, 1.6, 'SMAD', { step: 'end' }));
  S.push(marker(12, mkSmL, 'r', RED, [12, 16]), marker(12, mkShL, 'l', GREEN, [12, 16]));
  S.push(marker(13, mkSmM, 'r', RED, [12, 16]), marker(13, mkShM, 'l', GREEN, [12, 16]));
  S.push(marker(14, mkSmR, 'r', RED, [12, 16]), marker(14, mkShR, 'l', GREEN, [12, 16]));

  const legItem = (name: string, icon: string, color: string) => ({
    name, icon, itemStyle: { color: 'rgba(255,255,255,0)', borderColor: color, borderWidth: 1.5 },
  });
  const legFmt = (n: string) => (n === 'V3' ? '{a|V}{s|3}' : n === 'V4' ? '{a|V}{s|4}' : '{a|' + n + '}');
  const legend = (left: number, top: number, a: string, b: string, gap: number) => ({
    left, top, orient: 'vertical', itemGap: gap, itemWidth: 9, itemHeight: 11, selectedMode: false,
    data: [legItem(a, triR, RED), legItem(b, triL, GREEN)],
    formatter: legFmt, textStyle: { fontSize: 21.5, color: INK, fontFamily: FONT, padding: [0, 0, 0, 3], rich: RICH_LEG },
  });

  const txt = (text: string, left: number, top: number) => ({
    type: 'text', left, top, silent: true, style: { text, fontSize: 21, fill: INK, fontFamily: FONT },
  });

  return {
    animation: false,
    textStyle: { fontFamily: FONT },
    grid, xAxis, yAxis, series: S,
    legend: [
      legend(104, 219, 'V3', 'V4', 1),
      legend(782, 219, 'V3', 'V4', 1),
      legend(160, 544, 'COEF 1', 'COEF 2', 4),
      legend(955, 540, 'COEF 1', 'COEF 2', 4),
      legend(105, 716, 'SMAD', 'SHAD', 2),
      legend(698, 749, 'SMAD', 'SHAD', 2),
    ],
    graphic: [
      txt('JET Pulse No: 75946', 88, 26),
      txt('Time zoom 1', 316, 26),
      txt('Time zoom 2', 500, 26),
      txt('Pulse No: 75946', 674, 5),
      txt('Time zoom 1', 674, 27),
      txt('Pulse No: 75946', 937, 5),
      txt('Time zoom 2', 937, 27),
      {
        type: 'text', x: 1210, y: 822, rotation: Math.PI / 2, silent: true,
        style: { text: 'JG09.147-3c', fontSize: 11, fill: INK, fontFamily: FONT, align: 'center', verticalAlign: 'middle', textAlign: 'center', textVerticalAlign: 'middle' },
      },
    ],
  };
}

export default function App() {
  const ref = useRef<HTMLDivElement>(null);
  useEffect(() => {
    const chart = echarts.init(ref.current as HTMLDivElement, null, { renderer: 'svg' });
    chart.setOption(buildOption() as any);
    return () => chart.dispose();
  }, []);
  return <div ref={ref} style={{ position: 'fixed', left: 0, top: 0, width: 1215, height: 911, background: '#fff' }} />;
}
